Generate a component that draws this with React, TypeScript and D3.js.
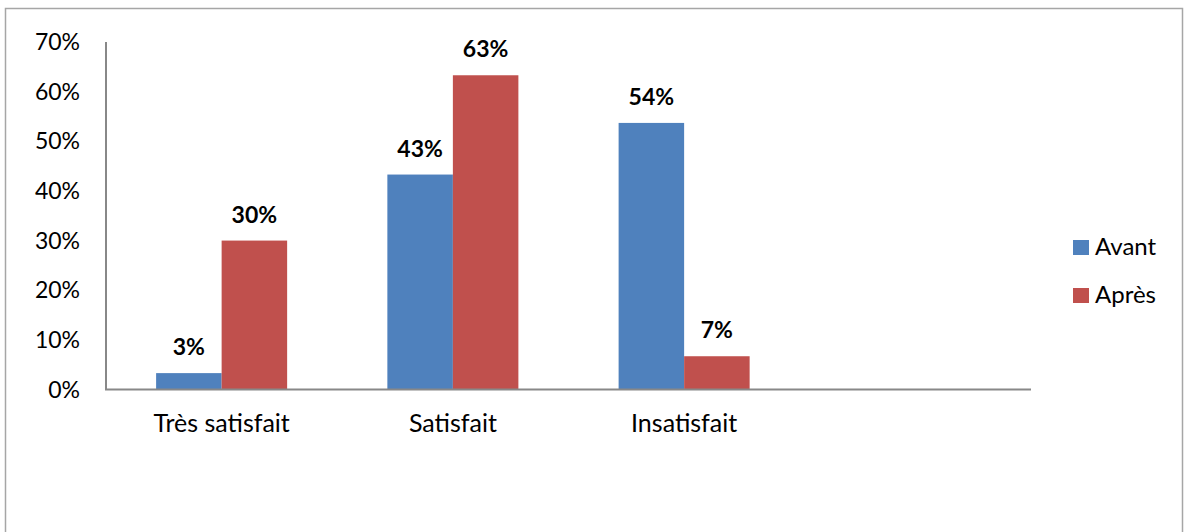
import React, { useEffect, useRef } from 'react';
import * as d3 from 'd3';

const categories = ['Très satisfait', 'Satisfait', 'Insatisfait', ''];
const seriesNames = ['Avant', 'Après'];
const avant = [3.3, 43.3, 53.7, null];
const apres = [30, 63.3, 6.7, null];
const yTicks = [0, 10, 20, 30, 40, 50, 60, 70];
const colors = ['#4F81BD', '#C0504D'];

const W = 1184;
const H = 532;
const FONT = 'Lato, "Open Sans", sans-serif';

export default function App() {
  const svgRef = useRef<SVGSVGElement>(null);

  useEffect(() => {
    document.body.style.margin = '0';
    if (!svgRef.current) return;
    const svg = d3.select(svgRef.current);
    svg.selectAll('*').remove();

    // outer frame
    svg.append('rect')
      .attr('x', 5.5).attr('y', 8.5)
      .attr('width', 1177).attr('height', 540)
      .attr('fill', 'white')
      .attr('stroke', '#a6a6a6')
      .attr('stroke-width', 1.5);

    const x0 = d3.scaleBand<string>()
      .domain(categories.map((c, i) => String(i)))
      .range([106, 1031])
      .paddingInner(0)
      .paddingOuter(0);

    const x1 = d3.scaleBand<string>()
      .domain(seriesNames)
      .range([0, x0.bandwidth()])
      .paddingInner(0)
      .paddingOuter(0.765);

    const y = d3.scaleLinear().domain([0, 70]).range([389.5, 42]);

    // y tick labels
    svg.append('g')
      .selectAll('text')
      .data(yTicks)
      .join('text')
      .attr('x', 80)
      .attr('y', d => y(d))
      .attr('dy', '0.35em')
      .attr('text-anchor', 'end')
      .attr('font-family', FONT)
      .attr('font-size', 23)
      .attr('fill', '#000')
      .text(d => `${d}%`);

    const rows = [avant, apres];
    categories.forEach((cat, i) => {
      const g = svg.append('g').attr('transform', `translate(${x0(String(i))},0)`);
      seriesNames.forEach((s, j) => {
        const v = rows[j][i];
        if (v == null) return;
        g.append('rect')
          .attr('x', x1(s)!)
          .attr('y', y(v))
          .attr('width', x1.bandwidth())
          .attr('height', y(0) - y(v))
          .attr('fill', colors[j]);
        g.append('text')
          .attr('x', x1(s)! + x1.bandwidth() / 2)
          .attr('y', y(v) - 18)
          .attr('text-anchor', 'middle')
          .attr('font-family', FONT)
          .attr('font-weight', 'bold')
          .attr('font-size', 23)
          .attr('fill', '#000')
          .text(`${Math.round(v)}%`);
      });
      if (cat) {
        svg.append('text')
          .attr('x', x0(String(i))! + x0.bandwidth() / 2)
          .attr('y', 432)
          .attr('text-anchor', 'middle')
          .attr('font-family', FONT)
          .attr('font-size', 25)
          .attr('fill', '#000')
          .text(cat);
      }
    });

    // axes
    svg.append('line')
      .attr('x1', 106).attr('x2', 106)
      .attr('y1', y(70)).attr('y2', y(0))
      .attr('stroke', '#888').attr('stroke-width', 2);
    svg.append('line')
      .attr('x1', 105).attr('x2', 1031)
      .attr('y1', y(0)).attr('y2', y(0))
      .attr('stroke', '#888').attr('stroke-width', 2);

    // legend
    const legend = svg.append('g').attr('transform', 'translate(1073,240)');
    seriesNames.forEach((s, j) => {
      legend.append('rect')
        .attr('x', 0).attr('y', j * 48)
        .attr('width', 16).attr('height', 15)
        .attr('fill', colors[j]);
      legend.append('text')
        .attr('x', 22).attr('y', j * 48 + 15)
        .attr('font-family', FONT)
        .attr('font-size', 24)
        .attr('fill', '#000')
        .text(s);
    });
  }, []);

  return (
    <svg ref={svgRef} width={W} height={H} style={{ display: 'block' }} />
  );
}
